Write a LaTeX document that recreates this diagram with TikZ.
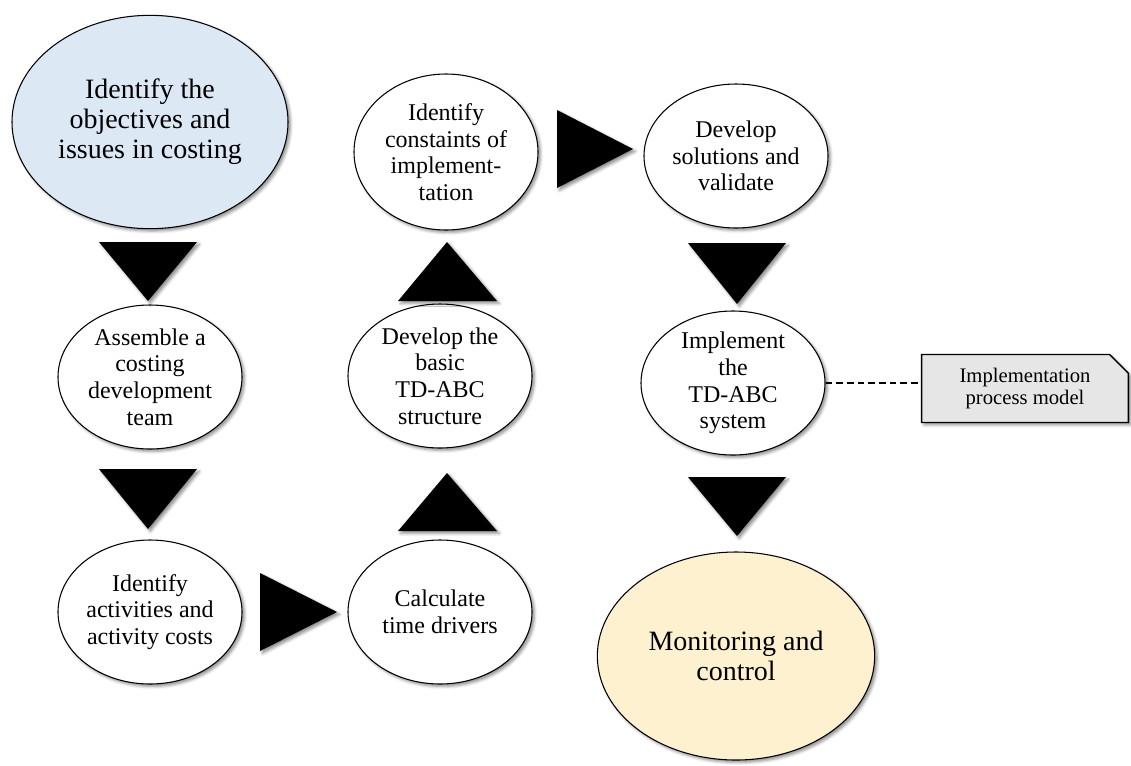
\documentclass[tikz,border=0pt]{standalone}
\usepackage{fontspec}
\setmainfont{Liberation Serif}
\usetikzlibrary{shapes.geometric,shapes.misc,shadows.blur}
\definecolor{startfill}{HTML}{DDE8F5}
\definecolor{endfill}{HTML}{FDF1CF}
\definecolor{notefill}{HTML}{E6E6E6}
\begin{document}
\begin{tikzpicture}[x=0.75pt,y=-0.75pt,
  softshadow/.style={blur shadow={shadow xshift=1.8pt,shadow yshift=-1.8pt,
      shadow blur radius=2.2pt,shadow opacity=45}},
  stage/.style={ellipse,draw=black,line width=0.8pt,fill=white,softshadow,
      align=center,inner sep=0pt,minimum width=138pt,minimum height=108pt,
      font=\fontsize{18}{20}\selectfont},
  keystage/.style={stage,minimum width=207pt,minimum height=160pt,
      font=\fontsize{21}{22.5}\selectfont},
  tri/.style={fill=black,softshadow},
  notebox/.style={chamfered rectangle,chamfered rectangle corners=north east,
      chamfered rectangle sep=7pt,draw=black,line width=1.1pt,fill=notefill,
      softshadow,align=center,inner sep=0pt,minimum width=155pt,
      minimum height=51pt,font=\fontsize{15.5}{17}\selectfont},
  link/.style={draw=black,line width=1.3pt,dash pattern=on 5pt off 3pt}
]
\useasboundingbox (0,0) rectangle (1131,765);

% stages of the implementation process
\node[keystage,fill=startfill] (obj) at (150,122)
  {Identify the\\objectives and\\issues in costing};
\node[stage] (team) at (150,377) {Assemble a\\costing\\development\\team};
\node[stage] (act) at (150,612) {Identify\\activities and\\activity costs};
\node[stage] (time) at (440,612) {Calculate\\time drivers};
\node[stage] (basic) at (440,376) {Develop the\\basic\\TD-ABC\\structure};
\node[stage,minimum height=117pt] (cons) at (446,152)
  {Identify\\constaints of\\implement-\\tation};
\node[stage] (sol) at (736,156) {Develop\\solutions and\\validate};
\node[stage] (impl) at (733,383) {Implement\\the\\TD-ABC\\system};
\node[keystage,fill=endfill,minimum width=208pt,minimum height=156pt] (mon)
  at (736,656) {Monitoring and\\control};

% annotation
\node[notebox] (note) at (1025,388.5) {Implementation\\process model};
\path[link] (impl.east) -- (impl.east -| note.west);

% flow triangles
\fill[tri] (99,242) -- (197,242) -- (148,301) -- cycle;
\fill[tri] (99,469) -- (197,469) -- (148,529) -- cycle;
\fill[tri] (260,573) -- (337,612) -- (260,651) -- cycle;
\fill[tri] (398,531) -- (497,531) -- (447,473) -- cycle;
\fill[tri] (398,301) -- (497,301) -- (447,242) -- cycle;
\fill[tri] (557,110) -- (633,149) -- (557,188) -- cycle;
\fill[tri] (688,243) -- (786,243) -- (737,304) -- cycle;
\fill[tri] (688,477) -- (786,477) -- (737,536) -- cycle;
\end{tikzpicture}
\end{document}
